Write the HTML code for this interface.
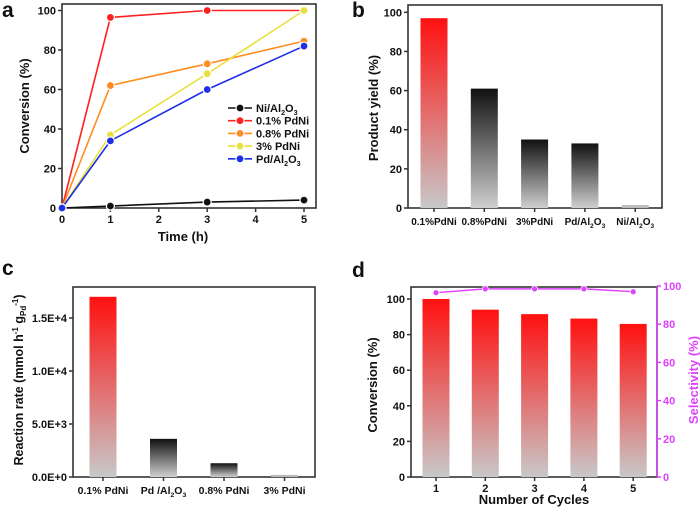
<!DOCTYPE html>
<html><head><meta charset="utf-8"><style>
html,body{margin:0;padding:0;background:#fff;}
svg{display:block;font-family:"Liberation Sans",Arial,sans-serif;font-weight:bold;}
</style></head><body>
<svg id="fig" width="700" height="511" viewBox="0 0 700 511" xmlns="http://www.w3.org/2000/svg">
<defs>
<linearGradient id="gRed" x1="0" y1="0" x2="0" y2="1"><stop offset="0" stop-color="#ff1010"/><stop offset="1" stop-color="#c8c8c8"/></linearGradient>
<linearGradient id="gBlk" x1="0" y1="0" x2="0" y2="1"><stop offset="0" stop-color="#111"/><stop offset="1" stop-color="#cfcfcf"/></linearGradient>
</defs>
</svg>
<script>
// Panel a data
const aTimes=[0,1,3,5];
const aSeriesNames=['Ni/Al2O3','0.1% PdNi','0.8% PdNi','3% PdNi','Pd/Al2O3'];
const aNi=[0,1,3,4];
const aPd01=[0,96.5,100,100];
const aPd08=[0,62,73,84.5];
const aPd3=[0,37,68,100];
const aPdAl=[0,34,60,82];
const aColors=['#111','#ff2020','#ff8c20','#e8e040','#1f2fe8'];
const aYTicks=[0,20,40,60,80,100];
const aXTicks=[0,1,2,3,4,5];
// Panel b data
const bCats=['0.1%PdNi','0.8%PdNi','3%PdNi','Pd/Al2O3','Ni/Al2O3'];
const bVals=[97,61,35,33,1.5];
const bYTicks=[0,20,40,60,80,100];
// Panel c data
const cCats=['0.1% PdNi','Pd /Al2O3','0.8% PdNi','3% PdNi'];
const cVals=[17000,3600,1300,200];
const cYTicks=[0,5000,10000,15000];
const cTickLabels=['0.0E+0','5.0E+3','1.0E+4','1.5E+4'];
// Panel d data
const dCycles=['1','2','3','4','5'];
const dConv=[100,94,91.5,89,86];
const dSel=[96.5,98.5,98.5,98.5,97];
const dYTicks=[0,20,40,60,80,100];
const dRTicks=[0,20,40,60,80,100];

const svg=document.getElementById('fig');
const NS='http://www.w3.org/2000/svg';
function mk(tag,attrs,parent){const e=document.createElementNS(NS,tag);for(const k in attrs)e.setAttribute(k,attrs[k]);(parent||svg).appendChild(e);return e;}
function txt(s,x,y,size,anchor,parent,fill){const t=mk('text',{x:x,y:y,'font-size':size,'text-anchor':anchor||'middle',fill:fill||'#111'},parent);
  const m=s.match(/^(.*)Al2O3$/);
  if(m){t.appendChild(document.createTextNode(m[1]+'Al'));const s1=mk('tspan',{'font-size':size*0.65,dy:3},t);s1.textContent='2';const s2=mk('tspan',{dy:-3},t);s2.textContent='O';const s3=mk('tspan',{'font-size':size*0.65,dy:3},t);s3.textContent='3';}
  else t.textContent=s;return t;}
function frame(x0,y0,x1,y1,g){const r=mk('rect',{x:x0,y:y0,width:x1-x0,height:y1-y0,fill:'none',stroke:'#333','stroke-width':1.6},g);}

// ---------- Panel a ----------
const ga=mk('g',{});
const axL=62,axR=304,ayB=208,ayT=10.5;
const ax=v=>axL+(axR-axL)*v/5, ay=v=>ayB+(ayT-ayB)*v/100;
frame(62,4,316,208,ga);
aYTicks.forEach(v=>{mk('line',{x1:axL,x2:axL-4,y1:ay(v),y2:ay(v),stroke:'#333','stroke-width':1.5},ga);const t=txt(String(v),axL-6,ay(v)+4,11,'end',ga);});
aXTicks.forEach(v=>{mk('line',{x1:ax(v),x2:ax(v),y1:ayB,y2:ayB+4,stroke:'#333','stroke-width':1.5},ga);const t=txt(String(v),ax(v),ayB+15,11,'middle',ga);});
let t=txt('Time (h)',ax(2.5),241,13,'middle',ga);
t=txt('Conversion (%)',0,0,13,'middle',ga);t.setAttribute('transform','translate(29,106) rotate(-90)');
t=txt('a',2,17,21,'start',ga);
const aData=[aNi,aPd01,aPd08,aPd3,aPdAl];
aData.forEach((ser,i)=>{
  const pl=mk('polyline',{points:ser.map((v,j)=>ax(aTimes[j])+','+ay(v)).join(' '),fill:'none',stroke:aColors[i],'stroke-width':1.6},ga);
  
  ser.forEach((v,j)=>{const c=mk('circle',{cx:ax(aTimes[j]),cy:ay(v),r:4,fill:aColors[i],stroke:'#fff','stroke-width':1.2},ga);});
});
aSeriesNames.forEach((n,i)=>{const y=108+i*12.7;
  const lg=mk('g',{},ga);
  mk('line',{x1:228,x2:252,y1:y,y2:y,stroke:aColors[i],'stroke-width':1.6},lg);
  mk('circle',{cx:240,cy:y,r:4,fill:aColors[i],stroke:'#fff','stroke-width':1.2},lg);
  txt(n,256,y+4,11,'start',lg);});

// ---------- Panel b ----------
const gb=mk('g',{});
const bL=408,bR=662,bB=208,bT=12.3;
const bx=i=>434+i*50.3, by=v=>bB+(bT-bB)*v/100;
frame(bL,5,bR,bB,gb);
bYTicks.forEach(v=>{mk('line',{x1:bL,x2:bL-4,y1:by(v),y2:by(v),stroke:'#333','stroke-width':1.5},gb);const t=txt(String(v),bL-6,by(v)+4,11,'end',gb);});
bCats.forEach((c,i)=>{const r=mk('rect',{x:bx(i)-13.5,y:by(bVals[i]),width:27,height:bB-by(bVals[i]),fill:i===0?'url(#gRed)':(i===4?'#bbb':'url(#gBlk)')},gb);
  mk('line',{x1:bx(i),x2:bx(i),y1:bB,y2:bB+4,stroke:'#333','stroke-width':1.5},gb);
  const t=txt(c,bx(i),bB+17,10,'middle',gb);});
t=txt('Product yield (%)',0,0,13,'middle',gb);t.setAttribute('transform','translate(378,108) rotate(-90)');
t=txt('b',352,17,21,'start',gb);

// ---------- Panel c ----------
const gc=mk('g',{});
const cL=73,cR=315,cB=477,cT=287;
const cx=i=>103+i*60.5, cy=v=>cB-v*(477-318)/15000;
frame(cL,cT,cR,cB,gc);
cYTicks.forEach((v,i)=>{mk('line',{x1:cL,x2:cL-4,y1:cy(v),y2:cy(v),stroke:'#333','stroke-width':1.5},gc);const t=txt(cTickLabels[i],cL-6,cy(v)+4,11,'end',gc);});
cCats.forEach((c,i)=>{const r=mk('rect',{x:cx(i)-13.5,y:cy(cVals[i]),width:27,height:cB-cy(cVals[i]),fill:i===0?'url(#gRed)':(i===3?'#bbb':'url(#gBlk)')},gc);
  mk('line',{x1:cx(i),x2:cx(i),y1:cB,y2:cB+4,stroke:'#333','stroke-width':1.5},gc);
  const t=txt(c,cx(i),cB+17,10.5,'middle',gc);});
t=mk('text',{'font-size':12.5,'text-anchor':'middle',fill:'#111',transform:'translate(23,380) rotate(-90)'},gc);

t.appendChild(document.createTextNode('Reaction rate (mmol h'));
(function(){const a=mk('tspan',{'font-size':8,dy:-5},t);a.textContent='-1';const b=mk('tspan',{dy:5},t);b.textContent=' g';const c=mk('tspan',{'font-size':8,dy:3},t);c.textContent='Pd';const d=mk('tspan',{'font-size':8,dy:-8},t);d.textContent='-1';const e=mk('tspan',{dy:5},t);e.textContent=')';})();
t=txt('c',2,275,21,'start',gc);

// ---------- Panel d ----------
const gd=mk('g',{});
const dL=411,dR=657,dB=477,dT=287;
const dx=i=>436+i*49.3, dy=v=>dB-v*(477-299)/100, dyR=v=>dB-v*(477-286)/100;
frame(dL,dT,dR,dB,gd);
mk('line',{x1:dR,x2:dR,y1:dT,y2:dB,stroke:'#e040ff','stroke-width':1.5},gd);
dYTicks.forEach(v=>{mk('line',{x1:dL,x2:dL-4,y1:dy(v),y2:dy(v),stroke:'#333','stroke-width':1.5},gd);const t=txt(String(v),dL-6,dy(v)+4,11,'end',gd);});
dRTicks.forEach(v=>{mk('line',{x1:dR,x2:dR+4,y1:dyR(v),y2:dyR(v),stroke:'#e040ff','stroke-width':1.5},gd);const t=txt(String(v),dR+6,dyR(v)+4,11,'start',gd,'#e040ff');});
dCycles.forEach((c,i)=>{const r=mk('rect',{x:dx(i)-13.5,y:dy(dConv[i]),width:27,height:dB-dy(dConv[i]),fill:'url(#gRed)'},gd);
  mk('line',{x1:dx(i),x2:dx(i),y1:dB,y2:dB+4,stroke:'#333','stroke-width':1.5},gd);
  const t=txt(c,dx(i),dB+15,11,'middle',gd);});
const sl=mk('polyline',{points:dSel.map((v,i)=>dx(i)+','+dyR(v)).join(' '),fill:'none',stroke:'#e040ff','stroke-width':1.4},gd);

dSel.forEach((v,i)=>{const c=mk('circle',{cx:dx(i),cy:dyR(v),r:3,fill:'#e040ff',stroke:'#fff','stroke-width':0.8},gd);});
t=txt('Number of Cycles',534,504,13,'middle',gd);
t=txt('Conversion (%)',0,0,13,'middle',gd);t.setAttribute('transform','translate(377,385) rotate(-90)');
t=txt('Selectivity (%)',0,0,13,'middle',gd,'#e040ff');t.setAttribute('transform','translate(698,380) rotate(-90)');
t=txt('d',352,277,21,'start',gd);
</script>
</body></html>
